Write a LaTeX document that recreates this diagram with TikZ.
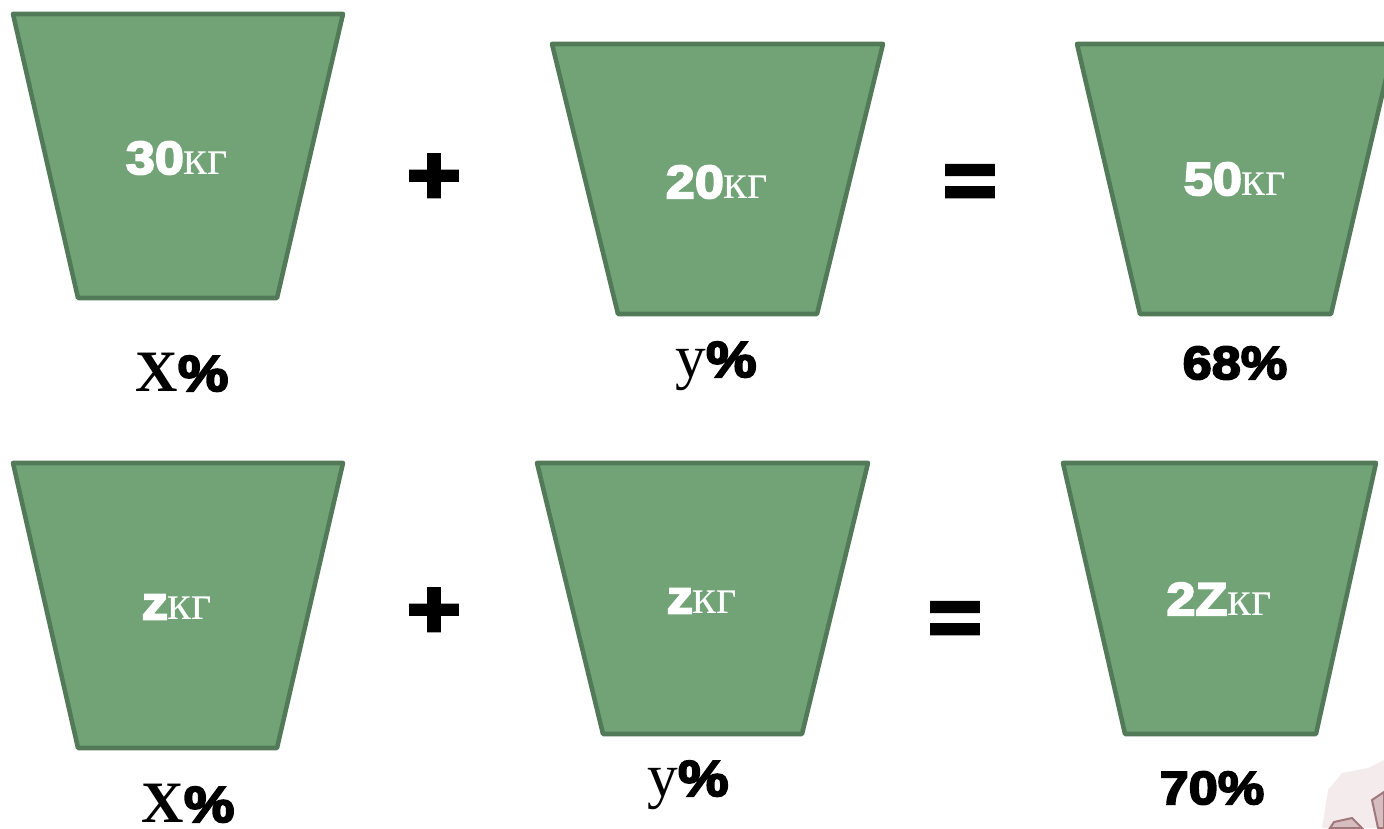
\documentclass[tikz,border=0pt]{standalone}
\usepackage{fontspec}
\setmainfont{Liberation Serif}
\newfontfamily\heavy{Liberation Sans}[UprightFont={Liberation Sans Bold},UprightFeatures={FakeBold=4,FakeStretch=1.12}]
\newfontfamily\serifb{Liberation Serif Bold}
\newfontfamily\serifr{Liberation Serif}
\definecolor{trapfill}{RGB}{113,163,119}
\definecolor{trapline}{RGB}{82,122,88}
\definecolor{decolight}{RGB}{244,236,236}
\definecolor{decomid}{RGB}{214,190,192}
\definecolor{decodark}{RGB}{160,120,124}
\tikzset{
  trap/.style={fill=trapfill,draw=trapline,line width=3.4pt,line join=round},
  intext/.style={text=white,inner sep=0pt,anchor=center},
  lbl/.style={text=black,inner sep=0pt,anchor=center},
  opsym/.style={text=black,inner sep=0pt,anchor=center,font=\heavy\fontsize{62}{62}\selectfont}
}
\newcommand{\hv}[1]{{\heavy\fontsize{35}{35}\selectfont #1}}
\newcommand{\hvp}[1]{{\heavy\fontsize{38}{38}\selectfont #1}}
\newcommand{\kgu}{{\serifr\fontsize{37}{37}\selectfont кг}}
\begin{document}
\begin{tikzpicture}[x=0.75pt,y=-0.75pt]
\useasboundingbox (0,0) rectangle (1384,828);
\clip (0,0) rectangle (1384,828);
% top row
\draw[trap] (13,14) -- (343,14) -- (277,298) -- (78,298) -- cycle;
\draw[trap] (552,44) -- (883,44) -- (817,314) -- (618,314) -- cycle;
\draw[trap] (1077,44) -- (1394,44) -- (1331,314) -- (1140,314) -- cycle;
% bottom row
\draw[trap] (13,463) -- (343,463) -- (277,748) -- (78,748) -- cycle;
\draw[trap] (537,463) -- (868,463) -- (802,734) -- (603,734) -- cycle;
\draw[trap] (1063,463) -- (1376,463) -- (1316,734) -- (1125,734) -- cycle;
% inner texts
\node[intext] (t1) at (177,158) {\hv{30}\kgu};
\node[intext] (t2) at (717,182) {\hv{20}\kgu};
\node[intext] (t3) at (1235,179) {\hv{50}\kgu};
\node[intext] (t4) at (177,607) {\hv{z}\kgu};
\node[intext] (t5) at (702,601) {\hv{z}\kgu};
\node[intext] (t6) at (1219,599) {\hv{2Z}\kgu};
% labels
\node[lbl] (l1) at (182,372) {{\serifb\fontsize{44}{44}\selectfont X}\hvp{\%}};
\node[lbl] (l2) at (716,366) {{\serifr\fontsize{46}{46}\selectfont y}\hvp{\%}};
\node[lbl] (l3) at (1235,363) {\hv{68\%}};
\node[lbl] (l4) at (188,803) {{\serifb\fontsize{44}{44}\selectfont X}\hvp{\%}};
\node[lbl] (l5) at (688,785) {{\serifr\fontsize{46}{46}\selectfont y}\hvp{\%}};
\node[lbl] (l6) at (1212,788) {\hv{70\%}};
% operators
\node[opsym] (p1) at (434,179) {+};
\node[opsym] (e1) at (970,187) {=};
\node[opsym] (p2) at (434,613) {+};
\node[opsym] (e2) at (955,624) {=};
% decoration bottom right
\fill[decolight] (1322,828) -- (1328,790) -- (1342,773) -- (1368,768) -- (1384,760) -- (1384,828) -- cycle;
\fill[decomid,draw=decodark,line width=1.5pt] (1330,828) -- (1334,822) -- (1352,818) -- (1362,828) -- cycle;
\fill[decomid,draw=decodark,line width=1.5pt] (1372,800) -- (1384,792) -- (1384,828) -- (1378,828) -- cycle;
\end{tikzpicture}
\end{document}
